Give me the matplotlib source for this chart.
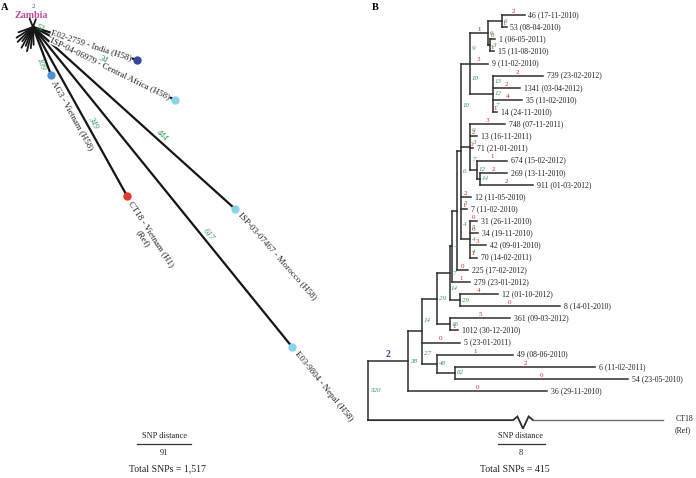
import math
import matplotlib
matplotlib.use("Agg")
import matplotlib.pyplot as plt

plt.rcParams['font.family'] = ['Liberation Serif', 'DejaVu Serif']

W, H, DPI = 696, 478, 100
PT = 72.0 / DPI  # points per pixel

RED = "#e0261d"
GREEN = "#2f9a5c"
BLUE = "#3342b0"
MAGENTA = "#c04a9e"
LINE_A = "#151515"
LINE_B = "#2e2e2e"

# ===================== Panel A data =====================
a_tips = ["E02-2759 - India (H58)", "ISP-04-06979 - Central Africa (H58)",
          "AG3 - Vietnam (H58)", "CT18 - Vietnam (H1)",
          "ISP-03-07467 - Morocco (H58)", "E03-9804 - Nepal (H58)"]
a_tip_sub = [None, None, None, "(Ref)", None, None]
a_angle_deg = [17.6, 27.2, 69.4, 60.9, 42.0, 51.0]      # below horizontal
a_dist_snp = [184, 269, 86, 326, 458, 694]              # from Zambian hub
a_snp_labels = ["52", "34", "109", "349", "444", "617"]
a_colors = ["#34479b", "#86d3ef", "#4a8fd6", "#e63b2a", "#86d3ef", "#86d3ef"]
zambia_angle_deg = [-70, -112, 96, 104, 111, 119, 127, 136, 147, 160, 88]
zambia_len_snp = [14, 15, 36, 42, 34, 40, 30, 36, 33, 26, 30]
zambia_label = "Zambia"
zambia_n = "2"
a_scale_snp = 91
a_total = "Total SNPs = 1,517"

# ===================== Panel B data =====================
def L(name, length, red=None):
    return {"name": name, "len": length, "red": red}


def N(length, kids, gaps=None, blue=None, stem=None):
    return {"len": length, "kids": kids, "gaps": gaps or [], "blue": blue, "stem": stem}


tree_b = N(0.0, [
    N(6.81, [
        N(2.38, [
            N(2.55, [
                N(2.21, [
                    N(0.34, [
                        N(0.85, [
                            N(0.68, [
                                N(1.53, [
                                    N(3.06, [
                                        N(2.38, [L("46 (17-11-2010)", 3.91, "2"),
                                                 L("53 (08-04-2010)", 0.85, "1")], ["6"]),
                                        N(0.34, [L("1 (06-05-2011)", 0.85, "0"),
                                                 L("15 (11-08-2010)", 0.68, "1")], ["3"]),
                                    ], ["6"], blue="1"),
                                    L("9 (11-02-2010)", 3.06, "3"),
                                    N(3.91, [L("739 (23-02-2012)", 8.51, "2"),
                                             L("1341 (03-04-2012)", 4.60, "2"),
                                             L("35 (11-02-2010)", 4.94, "4"),
                                             L("14 (24-11-2010)", 0.68, "1")], ["13", "12", "7"]),
                                ], ["9", "10"]),
                                N(1.53, [L("748 (07-11-2011)", 5.96, "3"),
                                         L("13 (16-11-2011)", 1.19, "2"),
                                         L("71 (21-01-2011)", 0.51, "0"),
                                         N(1.19, [L("674 (15-02-2012)", 5.11, "1"),
                                                  N(0.51, [L("269 (13-11-2010)", 4.60, "2"),
                                                           L("911 (01-03-2012)", 9.02, "2")], ["14"])],
                                           ["12"])], ["9", "3", "7"]),
                                L("12 (11-05-2010)", 1.70, "2"),
                                L("7 (11-02-2010)", 1.02, "1"),
                                N(1.53, [L("31 (26-11-2010)", 1.19, "0"),
                                         L("34 (19-11-2010)", 1.36, "0"),
                                         L("42 (09-01-2010)", 2.72, "3"),
                                         L("70 (14-02-2011)", 1.19, "1")], ["5", "4", "4"]),
                            ], ["10", "6", "3", "4"]),
                            L("225 (17-02-2012)", 1.87, "0"),
                        ]),
                        L("279 (23-01-2012)", 3.06, "1"),
                    ], ["4"]),
                    N(1.70, [L("12 (01-10-2012)", 6.47, "4"),
                             L("8 (14-01-2010)", 17.02, "0")], ["29"], stem="14"),
                ], ["7"]),
                N(2.21, [L("361 (09-03-2012)", 10.21, "5"),
                         L("1012 (30-12-2010)", 1.36, "1")], ["16"]),
            ], ["29"]),
            L("5 (23-01-2011)", 6.47, "0"),
            N(2.55, [L("49 (08-06-2010)", 12.94, "1"),
                     N(3.06, [L("6 (11-02-2011)", 23.83, "2"),
                              L("54 (23-05-2010)", 29.45, "0")], ["62"])], ["48"]),
        ], ["14", "27"]),
        L("36 (29-11-2010)", 23.66, "0"),
    ], ["38"], blue="2"),
    L("CT18", 50.2, None),
], ["320"])
b_ref_sub = "(Ref)"
b_scale_snp = 8
b_total = "Total SNPs = 415"

# ===================== figure =====================
fig = plt.figure(figsize=(W / DPI, H / DPI), dpi=DPI)


def fpx(px, py):
    return px / W, 1 - py / H


# ---------- Panel A ----------
A_PX = 54.0 / 91.0          # pixels per SNP
AO = (33.0, 27.0)           # hub position (px)
A_RIGHT = 360.0
axA = fig.add_axes([0, 0, A_RIGHT / W, 1])
axA.set_xlim(-AO[0] / A_PX, (A_RIGHT - AO[0]) / A_PX)
axA.set_ylim(-(H - AO[1]) / A_PX, AO[1] / A_PX)
axA.axis('off')


def off(deg, along_px, perp_px=0.0):
    t = math.radians(deg)
    ux, uy = math.cos(t), -math.sin(t)
    nx, ny = -uy, ux
    return ((ux * along_px + nx * perp_px) * PT, (uy * along_px + ny * perp_px) * PT)


for ang, ln in zip(zambia_angle_deg, zambia_len_snp):
    t = math.radians(ang)
    axA.plot([0, ln * math.cos(t)], [0, -ln * math.sin(t)], color=LINE_A, lw=1.3,
             solid_capstyle='round', zorder=1)

label_side = ["before", "before", "after", "after", "after", "after"]
label_rot = [18, 26, 61, 57, 48.5, 51]
snp_frac = [0.07, 0.48, 0.73, 0.58, 0.62, 0.66]
snp_perp = [1, 3, -6, 6, 5, 6]

for i in range(len(a_tips)):
    t = math.radians(a_angle_deg[i])
    d = a_dist_snp[i]
    x, y = d * math.cos(t), -d * math.sin(t)
    axA.plot([0, x], [0, y], color=LINE_A, lw=1.6, zorder=1, solid_capstyle='round')
    axA.scatter([x], [y], s=36, color=a_colors[i], zorder=4, linewidths=0)
    rot = label_rot[i]
    if label_side[i] == "before":
        axA.annotate(a_tips[i], (x, y), xytext=off(a_angle_deg[i], -6), textcoords='offset points',
                     rotation=-rot, rotation_mode='anchor', ha='right', va='center',
                     fontsize=6.4, color='#222222', zorder=3,
                     bbox=dict(boxstyle='square,pad=0.05', fc='white', ec='none'))
    else:
        axA.annotate(a_tips[i], (x, y), xytext=off(a_angle_deg[i], 7), textcoords='offset points',
                     rotation=-rot, rotation_mode='anchor', ha='left', va='center',
                     fontsize=6.4, color='#222222', zorder=3)
        if a_tip_sub[i]:
            axA.annotate(a_tip_sub[i], (x, y), xytext=off(rot, 7 + 38, -10), textcoords='offset points',
                         rotation=-rot, rotation_mode='anchor', ha='center', va='center',
                         fontsize=6.4, color='#222222', zorder=3)
    fx, fy = x * snp_frac[i], y * snp_frac[i]
    axA.annotate(a_snp_labels[i], (fx, fy), xytext=off(a_angle_deg[i], 0, snp_perp[i]),
                 textcoords='offset points', rotation=-a_angle_deg[i], rotation_mode='anchor',
                 ha='center', va='center', fontsize=6, color=GREEN, style='italic', zorder=5)

fig.text(*fpx(31, 16), zambia_label, color=MAGENTA, fontsize=7.2, fontweight='bold',
         ha='center', va='center')
fig.text(*fpx(33, 6), zambia_n, color=BLUE, fontsize=5, ha='center', va='center')

# scale bar A
sx0 = (137 - AO[0]) / A_PX
sy = -(444 - AO[1]) / A_PX
axA.plot([sx0, sx0 + a_scale_snp], [sy, sy], color='#333333', lw=0.9)
fig.text(*fpx(164, 436), "SNP distance", fontsize=6, ha='center', va='center', color='#222222')
fig.text(*fpx(164, 453), str(a_scale_snp), fontsize=6, ha='center', va='center', color='#222222')
fig.text(*fpx(167, 469), a_total, fontsize=7, ha='center', va='center', color='#222222')
fig.text(*fpx(5, 7), "A", fontsize=7.5, fontweight='bold', ha='center', va='center')

# ---------- Panel B ----------
B_PX = 5.875            # pixels per SNP
B_ROOT = 368.0          # root x (px)
B_LEAF0 = 15.0          # first leaf y (px)
B_STEP = 12.13          # leaf spacing (px)
B_LEFT = 360.0
REF_GAP = 1.4
axB = fig.add_axes([B_LEFT / W, 0, (W - B_LEFT) / W, 1])
axB.set_xlim((B_LEFT - B_ROOT) / B_PX, (W - B_ROOT) / B_PX)
axB.set_ylim((H - B_LEAF0) / B_STEP, -B_LEAF0 / B_STEP)
axB.axis('off')

counter = [0]


def draw(node, px, is_root=False):
    x = px + node["len"]
    if "kids" not in node:
        if node["name"] == "CT18":
            y = counter[0] + REF_GAP
        else:
            y = counter[0]
        counter[0] += 1
    else:
        ys = [draw(k, x) for k in node["kids"]]
        y = (ys[0] + ys[-1]) / 2
        axB.plot([x, x], [ys[0], ys[-1]], color=LINE_B, lw=1.1, solid_capstyle='projecting')
        for j, g in enumerate(node["gaps"]):
            if g:
                axB.annotate(g, (x, (ys[j] + ys[j + 1]) / 2), xytext=(1.6, 0),
                             textcoords='offset points', ha='left', va='center',
                             fontsize=5, color=GREEN, style='italic')
    if is_root:
        return y
    if node.get("name") == "CT18":
        z0 = (513 - B_ROOT) / B_PX
        zw = 20 / B_PX
        zx = [px, z0, z0 + zw * 0.22, z0 + zw * 0.5, z0 + zw * 0.78, z0 + zw]
        zy = [y, y, y - 0.3, y + 0.7, y - 0.3, y]
        axB.plot(zx, zy, color=LINE_B, lw=1.3, solid_joinstyle='miter')
        axB.plot([z0 + zw, x], [y, y], color='#707070', lw=1.0)
        axB.annotate(node["name"], (x, y), xytext=(9.5, 0.8), textcoords='offset points',
                     ha='left', va='center', fontsize=5.6, color='#222222')
        axB.annotate(b_ref_sub, (x, y), xytext=(8.5, -7.5), textcoords='offset points',
                     ha='left', va='center', fontsize=5.6, color='#222222')
        return y
    axB.plot([px, x], [y, y], color=LINE_B, lw=1.1, solid_capstyle='projecting')
    if node.get("stem"):
        axB.annotate(node["stem"], (px, y), xytext=(0.8, 8.5), textcoords='offset points',
                     ha='left', va='center', fontsize=5, color=GREEN, style='italic')
    if "kids" not in node:
        axB.annotate(node["name"], (x, y), xytext=(2.6, 0), textcoords='offset points',
                     ha='left', va='center', fontsize=5.6, color='#222222')
        if node["red"] is not None:
            axB.annotate(node["red"], ((px + x) / 2, y), xytext=(0, 0.8), textcoords='offset points',
                         ha='center', va='bottom', fontsize=5, color=RED)
    if node.get("blue"):
        big = node["blue"] == "2"
        axB.annotate(node["blue"], ((px + x) / 2, y), xytext=(0, 1.2), textcoords='offset points',
                     ha='center', va='bottom', fontsize=7 if big else 5, color=BLUE,
                     fontweight='bold' if big else 'normal')
    return y


draw(tree_b, 0.0, is_root=True)

# scale bar B
bx0 = (498 - B_ROOT) / B_PX
by = (444 - B_LEAF0) / B_STEP
axB.plot([bx0, bx0 + b_scale_snp], [by, by], color='#333333', lw=0.9)
fig.text(*fpx(521, 436), "SNP distance", fontsize=6, ha='center', va='center', color='#222222')
fig.text(*fpx(521, 453), str(b_scale_snp), fontsize=6, ha='center', va='center', color='#222222')
fig.text(*fpx(515, 469), b_total, fontsize=7, ha='center', va='center', color='#222222')
fig.text(*fpx(375, 7), "B", fontsize=7.5, fontweight='bold', ha='center', va='center')

fig.savefig("out.png", dpi=DPI)
